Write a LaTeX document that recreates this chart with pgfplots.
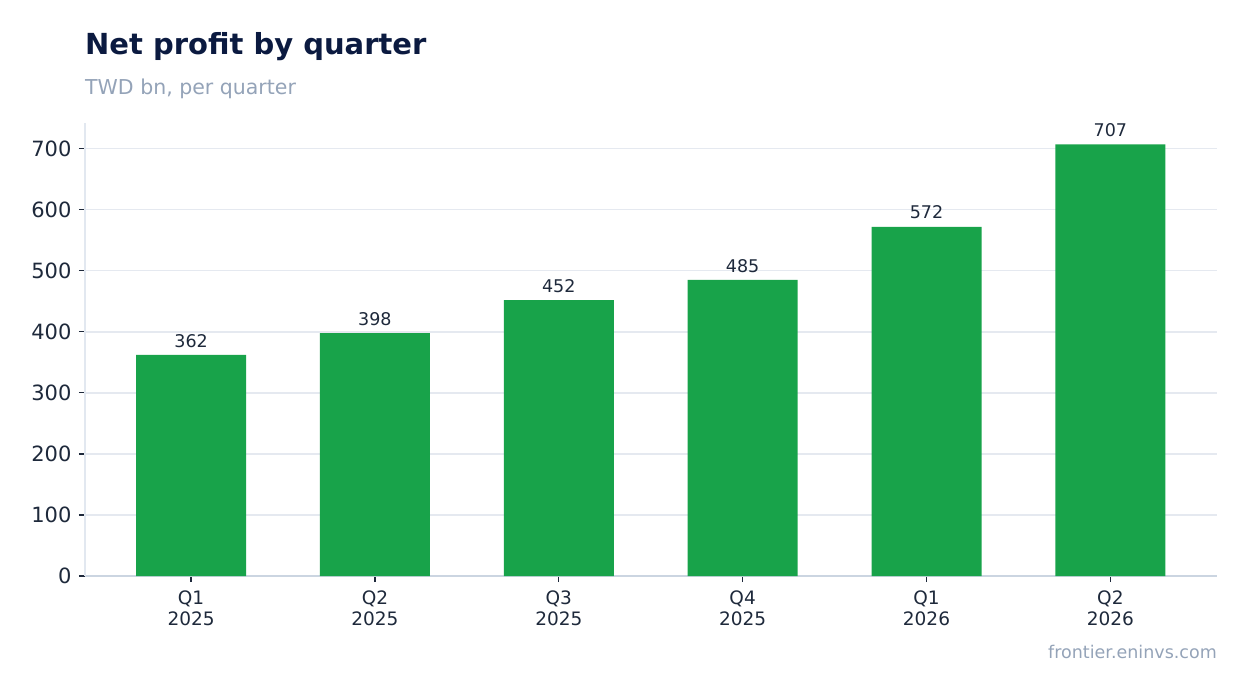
\documentclass[border=0pt]{standalone}
\usepackage{pgfplots}
\pgfplotsset{compat=1.18}
\usepackage{fontspec}
\setmainfont{DejaVu Sans}
\definecolor{bargreen}{HTML}{18A34A}
\definecolor{titlec}{HTML}{0B1A40}
\definecolor{subc}{HTML}{94A3B8}
\definecolor{inkc}{HTML}{1E293B}
\definecolor{gridc}{HTML}{E5E9F0}
\definecolor{spinel}{HTML}{E2E8F0}
\definecolor{spineb}{HTML}{CBD5E1}
\begin{document}
\begin{tikzpicture}[x=1pt,y=1pt]
  \path[use as bounding box] (-85,-117) rectangle (1162,576);
  \begin{axis}[
      at={(0,0)}, anchor=south west,
      scale only axis, width=1132pt, height=453pt,
      xmin=-0.577, xmax=5.58, ymin=0, ymax=742,
      axis x line*=bottom, axis y line*=left,
      x axis line style={color=spineb, line width=1.2pt},
      y axis line style={color=spinel, line width=1.2pt},
      tick align=outside, major tick length=6pt,
      tick style={color=inkc, line width=1.3pt},
      xtick={0,...,5},
      xticklabels={{Q1\\2025},{Q2\\2025},{Q3\\2025},{Q4\\2025},{Q1\\2026},{Q2\\2026}},
      xticklabel style={align=center, font=\fontsize{18.5}{21}\selectfont, text=inkc, yshift=-5pt},
      ytick={0,100,...,700},
      yticklabel style={font=\fontsize{21}{21}\selectfont, text=inkc, xshift=-4pt},
      /pgf/number format/assume math mode=true,
      ymajorgrids, grid style={color=gridc, line width=1.5pt},
      ybar, bar width=110pt,
      nodes near coords,
      every node near coord/.append style={font=\fontsize{17.5}{17.5}\selectfont, text=inkc, yshift=4pt},
    ]
    \addplot[fill=bargreen, draw=none] coordinates {(0,362) (1,398) (2,452) (3,485) (4,572) (5,707)};
  \end{axis}
  \node[anchor=base west, inner sep=0, font=\bfseries\fontsize{29}{29}\selectfont, text=titlec] at (0,521) {Net profit by quarter};
  \node[anchor=base west, inner sep=0, font=\fontsize{20.5}{20.5}\selectfont, text=subc] at (0,481) {TWD bn, per quarter};
  \node[anchor=base east, inner sep=0, font=\fontsize{17.5}{17.5}\selectfont, text=subc] at (1132,-82) {frontier.eninvs.com};
\end{tikzpicture}
\end{document}
